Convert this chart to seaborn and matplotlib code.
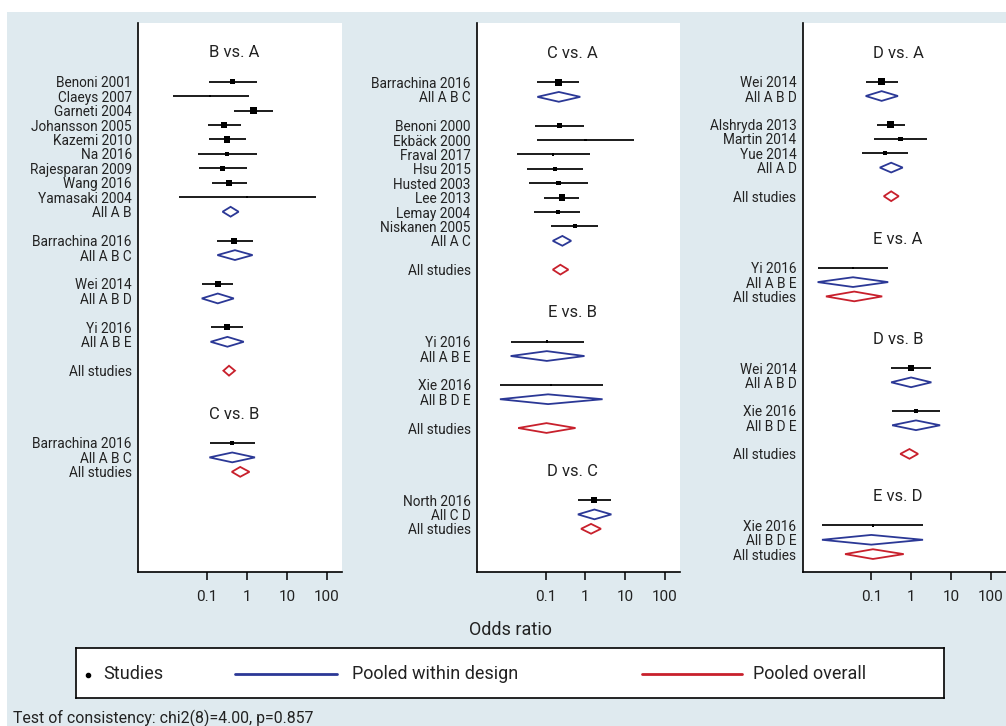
import numpy as np
import pandas as pd
import matplotlib
matplotlib.use("Agg")
import matplotlib.pyplot as plt
from matplotlib.patches import Rectangle, Polygon
from matplotlib.ticker import NullLocator
import matplotlib.transforms as mtransforms
import seaborn as sns

# ------------------------------------------------------------------ data
panel_comparisons = [
    ["B vs. A", "C vs. B"],
    ["C vs. A", "E vs. B", "D vs. C"],
    ["D vs. A", "E vs. A", "D vs. B", "E vs. D"],
]

study_comparison = (["B vs. A"] * 12 + ["C vs. B"] + ["C vs. A"] * 9 +
                    ["E vs. B"] * 2 + ["D vs. C"] + ["D vs. A"] * 4 +
                    ["E vs. A"] + ["D vs. B"] * 2 + ["E vs. D"])
study_name = [
    "Benoni 2001", "Claeys 2007", "Garneti 2004", "Johansson 2005", "Kazemi 2010",
    "Na 2016", "Rajesparan 2009", "Wang 2016", "Yamasaki 2004",
    "Barrachina 2016", "Wei 2014", "Yi 2016",
    "Barrachina 2016",
    "Barrachina 2016", "Benoni 2000", "Ekbäck 2000", "Fraval 2017", "Hsu 2015",
    "Husted 2003", "Lee 2013", "Lemay 2004", "Niskanen 2005",
    "Yi 2016", "Xie 2016",
    "North 2016",
    "Wei 2014", "Alshryda 2013", "Martin 2014", "Yue 2014",
    "Yi 2016",
    "Wei 2014", "Xie 2016",
    "Xie 2016",
]
study_design = (["A B"] * 9 + ["A B C", "A B D", "A B E"] +
                ["A B C"] +
                ["A B C"] + ["A C"] * 8 +
                ["A B E", "B D E"] +
                ["C D"] +
                ["A B D"] + ["A D"] * 3 +
                ["A B E"] +
                ["A B D", "B D E"] +
                ["B D E"])
study_or = [0.44, 0.12, 1.45, 0.27, 0.31, 0.31, 0.245, 0.36, 1.02,
            0.48, 0.186, 0.324,
            0.427,
            0.211, 0.224, 1.0, 0.151, 0.168, 0.209, 0.257, 0.204, 0.55,
            0.107, 0.138,
            1.62,
            0.182, 0.302, 0.537, 0.219,
            0.0347,
            1.0, 1.33,
            0.11]
study_lo = [0.11, 0.014, 0.47, 0.107, 0.112, 0.058, 0.063, 0.135, 0.02,
            0.182, 0.074, 0.123,
            0.119,
            0.062, 0.053, 0.059, 0.0186, 0.034, 0.0376, 0.0912, 0.0513, 0.138,
            0.0132, 0.0071,
            0.646,
            0.0724, 0.141, 0.12, 0.0575,
            0.00447,
            0.316, 0.335,
            0.00575]
study_hi = [1.82, 1.12, 4.37, 0.69, 0.94, 1.82, 0.98, 0.98, 52.0,
            1.38, 0.457, 0.81,
            1.58,
            0.708, 0.912, 16.8, 1.33, 0.851, 1.15, 0.676, 0.741, 2.04,
            0.944, 2.69,
            4.37,
            0.468, 0.692, 2.51, 0.841,
            0.266,
            3.24, 5.37,
            2.0]
study_weight = [20, 6, 45, 42, 38, 14, 20, 38, 5,
                38, 38, 36,
                12,
                42, 20, 5, 5, 16, 18, 42, 16, 16,
                6, 6,
                42,
                44, 56, 20, 18,
                5,
                44, 20,
                6]

design_comparison = (["B vs. A"] * 4 + ["C vs. B"] + ["C vs. A"] * 2 +
                     ["E vs. B"] * 2 + ["D vs. C"] + ["D vs. A"] * 2 +
                     ["E vs. A"] + ["D vs. B"] * 2 + ["E vs. D"])
design_name = ["A B", "A B C", "A B D", "A B E",
               "A B C",
               "A B C", "A C",
               "A B E", "B D E",
               "C D",
               "A B D", "A D",
               "A B E",
               "A B D", "B D E",
               "B D E"]
design_or = [0.389, 0.50, 0.186, 0.324, 0.427, 0.214, 0.263, 0.107, 0.115,
             1.68, 0.182, 0.316, 0.0347, 1.0, 1.33, 0.10]
design_lo = [0.245, 0.182, 0.074, 0.123, 0.115, 0.062, 0.151, 0.0132, 0.0071,
             0.646, 0.0724, 0.164, 0.00447, 0.316, 0.335, 0.00575]
design_hi = [0.617, 1.38, 0.468, 0.83, 1.58, 0.74, 0.437, 0.944, 2.69,
             4.47, 0.468, 0.617, 0.266, 3.24, 5.37, 2.0]

overall_comparison = ["B vs. A", "C vs. B", "C vs. A", "E vs. B", "D vs. C",
                      "D vs. A", "E vs. A", "D vs. B", "E vs. D"]
overall_or = [0.355, 0.676, 0.234, 0.105, 1.38, 0.316, 0.0372, 0.912, 0.11]
overall_lo = [0.257, 0.417, 0.151, 0.0204, 0.776, 0.2065, 0.00724, 0.537, 0.0219]
overall_hi = [0.50, 1.15, 0.372, 0.562, 2.45, 0.49, 0.188, 1.5, 0.653]

x_ticks = [0.1, 1, 10, 100]
x_tick_labels = ["0.1", "1", "10", "100"]
x_label = "Odds ratio"
legend_labels = ["Studies", "Pooled within design", "Pooled overall"]
footnote = "Test of consistency: chi2(8)=4.00, p=0.857"

# ------------------------------------------------------------------ style
sns.set_theme(style="white")
plt.rcParams["font.family"] = ["Roboto", "DejaVu Sans"]
TXT = "#222222"
BG = "#dfeaef"
BLUE = "#2b3896"
RED = "#c8202c"

studies = pd.DataFrame(dict(comparison=study_comparison, label=study_name,
                            design=study_design, est=study_or, lo=study_lo,
                            hi=study_hi, weight=study_weight))
designs = pd.DataFrame(dict(comparison=design_comparison, design=design_name,
                            est=design_or, lo=design_lo, hi=design_hi))
overall = pd.DataFrame(dict(comparison=overall_comparison, est=overall_or,
                            lo=overall_lo, hi=overall_hi))

W, H = 1006, 726
fig = plt.figure(figsize=(W / 100, H / 100), dpi=100)
fig.patch.set_facecolor("white")
fig.patches.append(Rectangle((7 / W, 0), 1 - 7 / W, (H - 12) / H,
                             transform=fig.transFigure, facecolor=BG,
                             edgecolor="none", zorder=-10))


def px_axes(left, top, right, bottom):
    return fig.add_axes([left / W, 1 - bottom / H, (right - left) / W,
                         (bottom - top) / H])


panel_x = [(138, 342), (477, 680), (802.7, 1005.5)]
panel_ylim = [(33.93, -4.06), (34.0, -4.13), (34.25, -4.1)]
xlim = (10 ** -2.725, 10 ** 2.375)
wmin, wmax = min(study_weight), max(study_weight)
h = 0.34  # diamond half-height in rows

for p, comps in enumerate(panel_comparisons):
    ax = px_axes(panel_x[p][0], 23, panel_x[p][1], 572)
    ax.set_facecolor("white")
    ax.set_xscale("log")

    rows_s, rows_d, rows_o, titles = [], [], [], []
    ylab_pos, ylab_txt = [], []
    r = -2
    for c in comps:
        titles.append((r, c))
        r += 2
        dsub = designs[designs.comparison == c]
        for _, d in dsub.iterrows():
            ssub = studies[(studies.comparison == c) & (studies.design == d.design)]
            for _, s in ssub.iterrows():
                rows_s.append(dict(row=r, est=s.est, lo=s.lo, hi=s.hi, weight=s.weight))
                ylab_pos.append(r); ylab_txt.append(s.label)
                r += 1
            rows_d.append(dict(row=r, est=d.est, lo=d.lo, hi=d.hi))
            ylab_pos.append(r); ylab_txt.append("All " + d.design)
            r += 1
            if len(dsub) > 1:
                r += 1
        o = overall[overall.comparison == c].iloc[0]
        rows_o.append(dict(row=r, est=o.est, lo=o.lo, hi=o.hi))
        ylab_pos.append(r); ylab_txt.append("All studies")
        r += 3

    ds = pd.DataFrame(rows_s)
    ax.hlines(ds.row, ds.lo, ds.hi, color="black", lw=1.25, zorder=2)
    sns.scatterplot(data=ds, x="est", y="row", size="weight",
                    sizes=(wmin * 0.52, wmax * 0.52), size_norm=(wmin, wmax),
                    marker="s", color="black", linewidth=0, legend=False,
                    ax=ax, zorder=3)
    for rec, col in [(rows_d, BLUE), (rows_o, RED)]:
        for q in rec:
            ax.add_patch(Polygon([(q["lo"], q["row"]), (q["est"], q["row"] - h),
                                  (q["hi"], q["row"]), (q["est"], q["row"] + h)],
                                 closed=True, fill=False, edgecolor=col,
                                 lw=1.3, zorder=2))
    trans = mtransforms.blended_transform_factory(ax.transAxes, ax.transData)
    for tr, tt in titles:
        ax.text(0.47, tr, tt, transform=trans, ha="center", va="center",
                fontsize=12, color=TXT)

    ax.set_xlim(*xlim)
    ax.set_ylim(*panel_ylim[p])
    ax.set_xticks(x_ticks)
    ax.set_xticklabels(x_tick_labels)
    ax.xaxis.set_minor_locator(NullLocator())
    ax.set_yticks(ylab_pos)
    ax.set_yticklabels(ylab_txt)
    ax.set_xlabel("")
    ax.set_ylabel("")
    ax.tick_params(axis="y", length=0, pad=4.5, labelsize=9.8, labelcolor=TXT)
    ax.tick_params(axis="x", direction="out", length=5.8, width=1.1, pad=7,
                   labelsize=11, labelcolor=TXT, color="black", bottom=True)
    for side in ["top", "right"]:
        ax.spines[side].set_visible(False)
    for side in ["left", "bottom"]:
        ax.spines[side].set_visible(True)
        ax.spines[side].set_color("black")
        ax.spines[side].set_linewidth(1.2)

fig.text(510 / W, 1 - 630 / H, x_label, ha="center", va="center",
         fontsize=13, color=TXT)

# legend box (pixel coordinate axes)
lax = px_axes(76, 648, 944, 698)
lax.set_xlim(76, 944)
lax.set_ylim(698, 648)
lax.set_facecolor("white")
lax.set_xticks([]); lax.set_yticks([])
for sp in lax.spines.values():
    sp.set_visible(True)
    sp.set_color("black")
    sp.set_linewidth(1.2)
lax.plot([88], [675], marker="o", ms=3.0, color="black", ls="none")
lax.text(103, 674, legend_labels[0], va="center", ha="left", fontsize=13, color=TXT)
lax.plot([235, 337], [674, 674], color=BLUE, lw=2.0)
lax.text(352, 674, legend_labels[1], va="center", ha="left", fontsize=13, color=TXT)
lax.plot([642, 742], [674, 674], color=RED, lw=2.0)
lax.text(753, 674, legend_labels[2], va="center", ha="left", fontsize=13, color=TXT)

fig.text(13 / W, 1 - 718 / H, footnote, ha="left", va="center",
         fontsize=11.4, color=TXT)

fig.savefig("out.png", dpi=100, facecolor=fig.get_facecolor())
